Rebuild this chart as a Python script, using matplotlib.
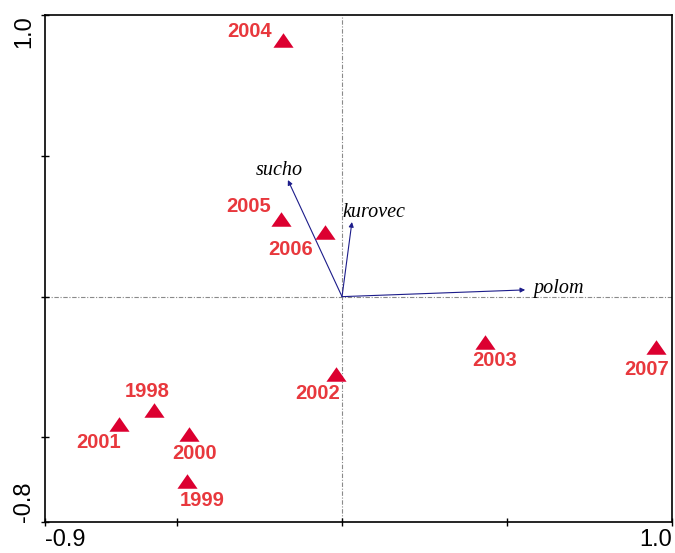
import matplotlib
matplotlib.use('Agg')
import matplotlib.pyplot as plt

# sample scores (years)
years = ['1998', '1999', '2000', '2001', '2002', '2003', '2004', '2005', '2006', '2007']
site_x = [-0.570, -0.470, -0.464, -0.676, -0.018, 0.433, -0.179, -0.185, -0.052, 0.952]
site_y = [-0.402, -0.654, -0.487, -0.452, -0.274, -0.161, 0.911, 0.276, 0.230, -0.179]

# environmental variables (arrows)
env_names = ['sucho', 'kurovec', 'polom']
env_x = [-0.164, 0.030, 0.555]
env_y = [0.414, 0.265, 0.024]

# axis ranges and ticks
x_ticks = [-0.9, -0.5, 0.0, 0.5, 1.0]
x_labels = ['-0.9', '', '', '', '1.0']
y_ticks = [-0.8, -0.5, 0.0, 0.5, 1.0]
y_labels = ['-0.8', '', '', '', '1.0']

# label offsets (points) for the year labels
year_offsets = {
    '1998': (-5, 13), '1999': (11, -14), '2000': (4, -14), '2001': (-15, -13),
    '2002': (-13, -14), '2003': (7, -13), '2004': (-24, 6), '2005': (-23, 9),
    '2006': (-25, -13), '2007': (-7, -16),
}
env_offsets = {'sucho': (-6, 7, 'center'), 'kurovec': (-7, 7, 'left'), 'polom': (6, 1, 'left')}

red_mark = '#dc0030'
red_text = '#e8383d'
navy = '#1c1c8a'

fig = plt.figure(figsize=(6.75, 5.53), dpi=100)
ax = fig.add_axes([0.0667, 0.0561, 0.9289, 0.9168])
ax.set_xlim(-0.9, 1.0)
ax.set_ylim(-0.8, 1.0)

# center lines
ax.axhline(0, color='#8a8a8a', lw=0.8, ls=(0, (4, 1.5, 1, 1.5)), zorder=1)
ax.axvline(0, color='#8a8a8a', lw=0.8, ls=(0, (4, 1.5, 1, 1.5)), zorder=1)

# arrows
for name, ex, ey in zip(env_names, env_x, env_y):
    ax.annotate('', xy=(ex, ey), xytext=(0, 0),
                arrowprops=dict(arrowstyle='-|>', color=navy, lw=0.8,
                                mutation_scale=7, shrinkA=0, shrinkB=0), zorder=2)
    dx, dy, ha = env_offsets[name]
    ax.annotate(name, xy=(ex, ey), xytext=(dx, dy), textcoords='offset points',
                ha=ha, va='center', fontsize=14.5, style='italic',
                family='Liberation Serif', color='black', zorder=3)

# triangles (flattened)
tri = [(-1, -0.72), (1, -0.72), (0, 0.72), (-1, -0.72)]
ax.scatter(site_x, site_y, marker=tri, s=14.5 ** 2, color=red_mark, zorder=4, linewidths=0)

for yr, sx, sy in zip(years, site_x, site_y):
    ax.annotate(yr, xy=(sx, sy), xytext=year_offsets[yr], textcoords='offset points',
                ha='center', va='center', fontsize=14.5, fontweight='bold',
                family='Liberation Sans', color=red_text, zorder=5)

# ticks
ax.set_xticks(x_ticks)
ax.set_xticklabels(x_labels, fontsize=17, family='Liberation Sans')
ax.set_yticks(y_ticks)
ax.set_yticklabels(y_labels, fontsize=17, family='Liberation Sans', rotation=90)
ax.tick_params(direction='inout', length=6, width=1, pad=2)
ax.tick_params(axis='y', pad=4)

xl = ax.get_xticklabels()
xl[0].set_ha('left')
xl[-1].set_ha('right')
yl = ax.get_yticklabels()
yl[0].set_va('bottom')
yl[-1].set_va('top')
for t in yl:
    t.set_ha('right')

for s in ax.spines.values():
    s.set_linewidth(1.2)

fig.savefig('out.png', dpi=100)
